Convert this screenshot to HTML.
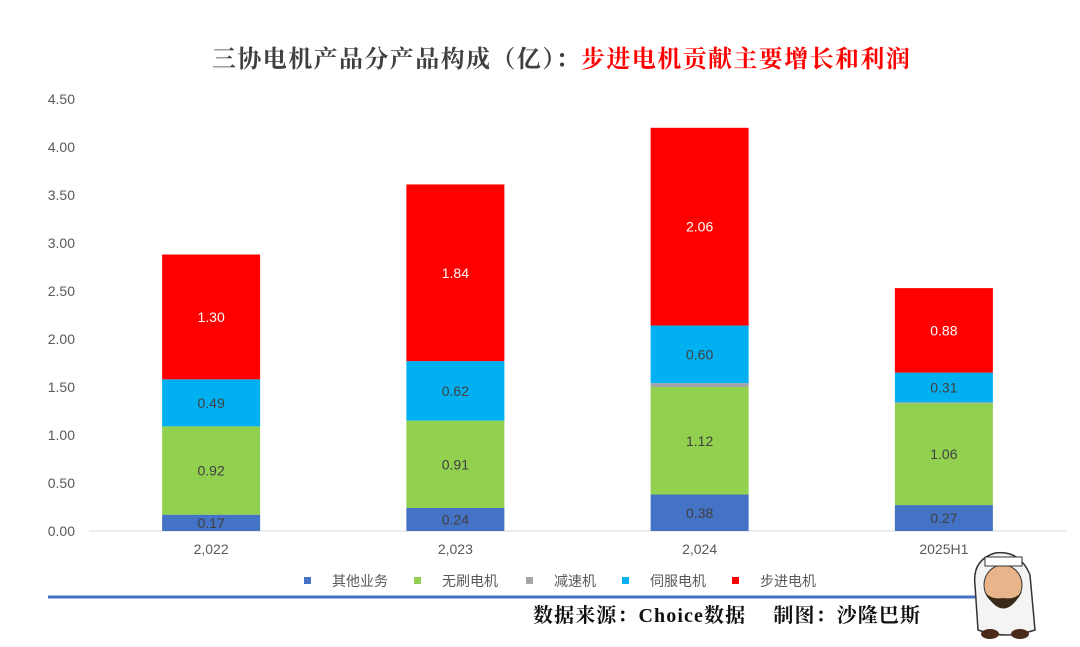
<!DOCTYPE html>
<html><head><meta charset="utf-8"><style>
body{margin:0;background:#fff;}
svg text{font-family:"Liberation Sans","Noto Sans CJK SC",sans-serif;}
</style></head><body>
<svg id="c" width="1080" height="642" viewBox="0 0 1080 642">
<text x="212" y="67" font-size="24" font-weight="bold" letter-spacing="1.4" fill="#404040" style="font-family:'Liberation Serif','Noto Serif CJK SC',serif">三协电机产品分产品构成（亿）：<tspan fill="#ff0000">步进电机贡献主要增长和利润</tspan></text>
<g id="axes"></g><g id="bars"></g><g id="legend"></g>
<line x1="48" y1="597" x2="975" y2="597" stroke="#4472c4" stroke-width="3"/>
<text x="533" y="622" font-size="20" font-weight="bold" letter-spacing="1.1" fill="#111" style="font-family:'Liberation Serif','Noto Serif CJK SC',serif">数据来源：Choice数据　 制图：沙隆巴斯</text>
<g>
<path d="M975 585 Q972 560 995 553 Q1020 550 1030 575 L1035 630 Q1005 640 978 630 Z" fill="#f4f4f4" stroke="#333" stroke-width="1.5"/>
<ellipse cx="1003" cy="585" rx="19" ry="20" fill="#e8b48a" stroke="#333"/>
<path d="M985 592 Q1003 625 1022 592 Q1015 600 1003 598 Q991 600 985 592Z" fill="#3a2a1a"/>
<rect x="985" y="557" width="37" height="9" fill="#fff" stroke="#333"/>
<ellipse cx="990" cy="634" rx="9" ry="5" fill="#4a2a1a"/><ellipse cx="1020" cy="634" rx="9" ry="5" fill="#4a2a1a"/>
</g>
</svg>
<script>
const categories=["2,022","2,023","2,024","2025H1"];
const seriesNames=["其他业务","无刷电机","减速机","伺服电机","步进电机"];
const seriesColors=["#4472c4","#92d050","#a5a5a5","#00b0f0","#ff0000"];
const other=[0.17,0.24,0.38,0.27];
const brushless=[0.92,0.91,1.12,1.06];
const reducer=[0.0,0.0,0.04,0.01];
const servo=[0.49,0.62,0.60,0.31];
const stepper=[1.30,1.84,2.06,0.88];
const yTicks=[0,0.5,1,1.5,2,2.5,3,3.5,4,4.5];
const series=[other,brushless,reducer,servo,stepper];
const ns="http://www.w3.org/2000/svg";
const y0=531,pxPer=96,x0=89,x1=1066,barW=98;
const y=v=>y0-v*pxPer;
const xc=i=>x0+(x1-x0)/categories.length*(i+0.5);
function mk(tag,attrs,parent,txt){const e=document.createElementNS(ns,tag);for(const k in attrs)e.setAttribute(k,attrs[k]);if(txt!==undefined)e.textContent=txt;parent.appendChild(e);return e;}
const ax=document.getElementById('axes'),bg=document.getElementById('bars'),lg=document.getElementById('legend');
yTicks.forEach(t=>{const e=mk('text',{x:75,y:y(t)+5,'font-size':14,fill:'#595959','text-anchor':'end'},ax,t.toFixed(2));

});
const base=mk('line',{x1:x0,x2:x1,y1:y0,y2:y0,stroke:'#d9d9d9'},ax);


categories.forEach((c,i)=>{const e=mk('text',{x:xc(i),y:554,'font-size':14,fill:'#595959','text-anchor':'middle'},ax,c);


let cum=0;
series.forEach((s,j)=>{const v=s[i];if(v<=0)return;
const r=mk('rect',{x:xc(i)-barW/2,y:y(cum+v),width:barW,height:v*pxPer,fill:seriesColors[j]},bg);


if(v>=0.1){const t=mk('text',{x:xc(i),y:y(cum+v/2)+5,'font-size':14,fill:j==4?'#fff':'#404040','text-anchor':'middle'},bg,v.toFixed(2));

}
cum+=v;});});
const lx=[304,414,526,622,732];
seriesNames.forEach((n,j)=>{const r=mk('rect',{x:lx[j],y:577,width:7,height:7,fill:seriesColors[j]},lg);


const t=mk('text',{x:lx[j]+28,y:586,'font-size':14,fill:'#595959'},lg,n);

});
</script>
</body></html>
